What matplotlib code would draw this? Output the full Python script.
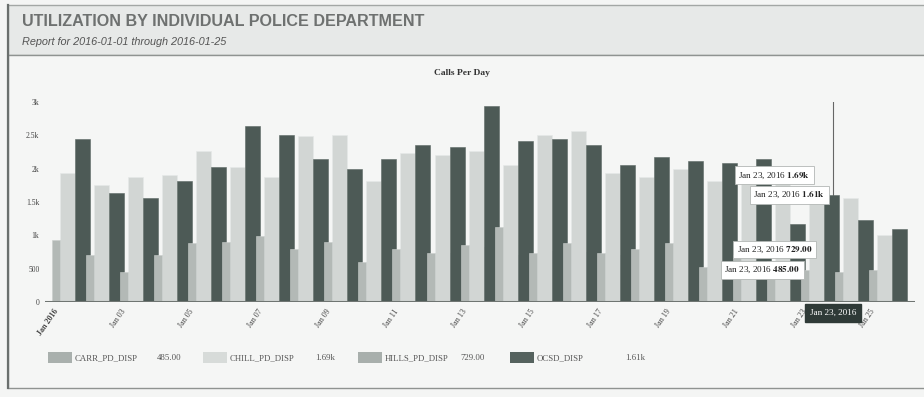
import numpy as np
import matplotlib.pyplot as plt
from matplotlib.patches import Rectangle
from matplotlib.transforms import blended_transform_factory

# Calls per day, Jan 01 .. Jan 25 2016
days = list(range(1, 26))
carr = [930, 710, 450, 710, 890, 900, 990, 800, 900, 600, 800, 740, 860,
        1130, 740, 890, 730, 800, 890, 530, 700, 620, 485, 450, 480]
chill = [1940, 1760, 1880, 1910, 2260, 2020, 1880, 2490, 2500, 1810, 2240, 2210, 2260,
         2060, 2500, 2560, 1940, 1880, 1990, 1810, 1800, 1800, 1690, 1560, 1000]
hills = [760, 650, 700, 720, 800, 780, 720, 760, 740, 690, 720, 730, 820,
         700, 760, 750, 700, 720, 700, 650, 700, 620, 729, 600, 560]
ocsd = [2450, 1630, 1560, 1810, 2030, 2640, 2510, 2140, 2000, 2150, 2350, 2320, 2940,
        2410, 2450, 2360, 2060, 2180, 2110, 2090, 2150, 1170, 1610, 1230, 1100]

series_names = ["CARR_PD_DISP", "CHILL_PD_DISP", "HILLS_PD_DISP", "OCSD_DISP"]
tick_days = [1, 3, 5, 7, 9, 11, 13, 15, 17, 19, 21, 23, 25]
tick_labels = ["Jan 2016", "Jan 03", "Jan 05", "Jan 07", "Jan 09", "Jan 11", "Jan 13",
               "Jan 15", "Jan 17", "Jan 19", "Jan 21", "Jan 23", "Jan 25"]
y_ticks = [0, 500, 1000, 1500, 2000, 2500, 3000]
y_labels = ["0", "500", "1k", "1.5k", "2k", "2.5k", "3k"]
hover_day = 23
hover_label = "Jan 23, 2016"

bar_colors = ["#b3b9b6", "#d2d6d4", "#a9b0ad", "#4d5a56"]
legend_colors = ["#a9b0ad", "#d7dbd9", "#a8afac", "#55625e"]

SERIF = ["Liberation Serif", "DejaVu Serif"]
SANS = ["Liberation Sans", "DejaVu Sans"]
plt.rcParams["mathtext.fontset"] = "stix"

W, H = 924, 397
fig = plt.figure(figsize=(W / 100, H / 100), dpi=100)
fig.patch.set_facecolor("#f4f5f4")


def fx(x):
    return x / W


def fy(y):
    return 1 - y / H


def fmt(v):
    return f"{v / 1000:.2f}k" if v >= 1000 else f"{v:.2f}"


# panels (behind the axes)
fig.add_artist(Rectangle((fx(8), fy(55)), fx(930) - fx(8), fy(5) - fy(55), zorder=-5,
                         transform=fig.transFigure, fc="#e7e9e8", ec="#a3a7a5", lw=1))
fig.add_artist(Rectangle((fx(8), fy(388)), fx(930) - fx(8), fy(55) - fy(388), zorder=-5,
                         transform=fig.transFigure, fc="#f5f6f5", ec="#8f9391", lw=1))
fig.add_artist(plt.Line2D([fx(8), fx(8)], [fy(388), fy(5)], transform=fig.transFigure,
                          color="#6a6f6d", lw=1.6, zorder=-4))

fig.text(fx(22), fy(22), "UTILIZATION BY INDIVIDUAL POLICE DEPARTMENT", family=SANS,
         fontsize=11.6, weight="bold", color="#6e7170", va="center")
fig.text(fx(22), fy(42), "Report for 2016-01-01 through 2016-01-25", family=SANS,
         fontsize=7.8, style="italic", color="#555", va="center")
fig.text(fx(462), fy(73), "Calls Per Day", family=SERIF, fontsize=6.8, weight="bold",
         color="#333", ha="center", va="center")

# axes: one day = 34.05 px, Jan 01 CHILL bar starts at x=60
ax = fig.add_axes([fx(45), fy(302), fx(915) - fx(45), fy(102) - fy(302)])
ax.set_zorder(1)
ax.set_facecolor("none")
x = np.array(days) - 1

hover_idx = hover_day - 1
hover_x = hover_idx + 0.70
ax.axvline(hover_x, color="#666", lw=0.8, zorder=1)

ax.bar(x + 0.46, hills, width=0.40, align="edge", color=bar_colors[2], zorder=2)
ax.bar(x, chill, width=0.44, align="edge", color=bar_colors[1], ec="#e6e9e8", lw=0.4, zorder=3)
ax.bar(x + 0.44, ocsd, width=0.44, align="edge", color=bar_colors[3], ec="#5d6965", lw=0.4, zorder=3)
ax.bar(x - 0.235, carr, width=0.235, align="edge", color=bar_colors[0], ec="#c9cecc", lw=0.4, zorder=4)

ax.axhline(0, color="#6f7572", lw=2.2, zorder=5)

ax.set_xlim(-0.44, 25.11)
ax.set_ylim(0, 3000)
for s in ax.spines.values():
    s.set_visible(False)

ax.set_yticks(y_ticks)
ax.set_yticklabels(y_labels, family=SERIF, fontsize=5.5, color="#444")
ax.set_xticks(np.array(tick_days) - 1 - 0.2)
ax.set_xticklabels(tick_labels, family=SERIF, fontsize=5.8, color="#444",
                   rotation=55, ha="right", va="top", rotation_mode="anchor")
ax.get_xticklabels()[0].set_weight("bold")
ax.tick_params(length=0, pad=4)

# hover tooltips for Jan 23
tips = [(chill[hover_idx], 0.03, 210), (ocsd[hover_idx], 0.47, 0),
        (hills[hover_idx], 0.09, 60), (carr[hover_idx], -0.27, 0)]
for val, dx, dy in tips:
    ax.text(hover_idx + dx, val + dy, f"{hover_label} $\\mathbf{{{fmt(val)}}}$",
            family=SERIF, fontsize=6.6, color="#222", ha="right", va="center", zorder=8,
            bbox=dict(boxstyle="square,pad=0.4", fc="white", ec="#b3b7b5", lw=0.6))

tr = blended_transform_factory(ax.transData, ax.transAxes)
ax.text(hover_x, -0.055, hover_label, transform=tr, family=SERIF, fontsize=6.6,
        color="white", ha="center", va="center", zorder=9,
        bbox=dict(boxstyle="square,pad=0.55", fc="#2f3a37", ec="#2f3a37"))

# legend with hovered values
values = [carr[hover_idx], chill[hover_idx], hills[hover_idx], ocsd[hover_idx]]
patch_x = [48, 203, 358, 510]
value_x = [157, 315, 460, 625]
for name, col, v, px0, vx in zip(series_names, legend_colors, values, patch_x, value_x):
    fig.add_artist(Rectangle((fx(px0), fy(363)), fx(24), fy(352) - fy(363),
                             transform=fig.transFigure, fc=col, ec="none"))
    fig.text(fx(px0 + 27), fy(358), name, family=SERIF, fontsize=6.3, color="#555", va="center")
    fig.text(fx(vx), fy(358), fmt(v), family=SERIF, fontsize=6.3, color="#555", va="center")

fig.savefig("out.png", dpi=100, facecolor=fig.get_facecolor())
